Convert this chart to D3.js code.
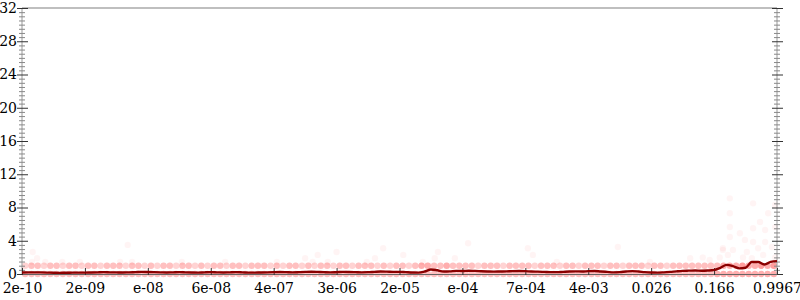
<!DOCTYPE html>
<html>
<head>
<meta charset="utf-8">
<script src="https://cdn.jsdelivr.net/npm/d3@7"></script>
<style>
	body { margin: 0; background: #fff; }
	.plot { width: 800px; height: 300px; }
</style>
</head>
<body>
<div class="plot" id="plot-1"></div>
<script>
//Data
//x is the rank position (0..12), tick labels give the value at each position
const xLabels = ['2e-10','2e-09','e-08','6e-08','4e-07','3e-06','2e-05','e-04','7e-04','4e-03','0.026','0.166','0.9967'];
const yTicks = [0,4,8,12,16,20,24,28,32];

//smoothed mean, one value every 0.1 of x
const meanLine = [
	0.18,0.2,0.2,0.19,0.17,0.15,0.14,0.15,0.16,0.17,0.17,
	0.18,0.2,0.22,0.2,0.19,0.18,0.2,0.22,0.25,0.24,
	0.22,0.2,0.18,0.2,0.22,0.2,0.18,0.17,0.2,0.22,
	0.2,0.18,0.2,0.22,0.2,0.17,0.16,0.18,0.2,0.22,
	0.24,0.22,0.2,0.22,0.25,0.27,0.25,0.22,0.2,0.22,
	0.25,0.24,0.22,0.2,0.22,0.26,0.3,0.28,0.25,0.26,
	0.22,0.18,0.17,0.3,0.55,0.45,0.3,0.32,0.38,0.36,
	0.4,0.37,0.33,0.3,0.28,0.3,0.32,0.35,0.36,0.34,
	0.3,0.28,0.25,0.22,0.22,0.26,0.3,0.32,0.3,0.34,
	0.36,0.3,0.25,0.2,0.22,0.3,0.35,0.3,0.22,0.18,
	0.17,0.2,0.25,0.32,0.38,0.4,0.42,0.4,0.42,0.48,
	0.75,1.1,0.95,0.68,0.75,1.45,1.45,1.15,1.45,1.55
];

//number of observations at value 1, per 0.1 bin of x
const countsAtOne = [
	2,3,3,2,3,3,2,3,3,2, 3,3,2,3,3,3,2,3,3,2,
	3,2,3,3,2,3,3,2,3,2, 3,3,2,3,3,2,3,3,3,2,
	3,2,3,3,2,3,2,3,3,2, 3,3,2,3,3,3,2,3,2,3,
	3,2,3,4,4,3,3,4,3,3, 3,3,2,3,3,3,2,3,3,3,
	3,2,3,3,3,2,3,3,2,3, 3,3,2,3,3,2,3,3,3,2,
	3,3,2,3,3,3,3,3,3,3, 3,4,4,4,5,4,4,5,4,5
];
//number of observations at value 0, per 0.1 bin of x
const countsAtZero = [
	3,3,3,3,3,3,3,3,3,3, 3,3,3,3,3,3,3,3,3,3,
	3,3,3,3,3,3,3,3,3,3, 3,3,3,3,3,3,3,3,3,3,
	3,3,3,3,3,3,3,3,3,3, 3,3,3,3,3,3,3,3,3,3,
	3,3,3,3,3,3,3,3,3,3, 3,3,3,3,3,3,3,3,3,3,
	3,3,3,3,3,3,3,3,3,3, 3,3,3,3,3,3,3,3,3,3,
	3,3,3,3,3,3,3,3,3,3, 4,4,4,4,4,4,4,4,4,4
];

//scattered observations above the bands
const pointX = [0.17,0.24,0.16,0.37,0.64,0.92,1.68,1.56,1.75,2.54,3.23,4.05,4.5,4.7,4.62,4.86,5.0,5.48,5.61,5.74,
	6.06,6.37,6.56,6.61,6.88,7.09,8.04,8.12,8.5,9.47,9.98,10.62,10.82,10.93,11.09,11.14,11.22,11.25,11.25,11.25,
	11.25,11.3,11.41,11.46,11.52,11.6,11.62,11.62,11.62,11.7,11.78,11.81,11.81,11.86,11.92,11.97,11.97,11.97,11.14,11.49,11.73];
const pointY = [2.65,1.9,1.45,1.45,1.45,1.45,3.5,1.45,1.45,1.45,1.45,1.45,1.9,2.3,1.45,1.45,2.65,1.45,1.9,3.1,
	2.3,1.45,1.9,2.65,1.9,3.7,3.1,2.3,1.45,3.25,1.45,1.9,2.0,1.7,2.0,3.1,2.3,9.1,7.3,5.65,
	4.45,2.9,4.9,2.0,2.65,1.9,8.5,5.5,3.85,3.1,2.3,5.3,3.85,7.3,3.25,8.3,5.65,2.0,2.9,4.1,6.25];

//Prepare DOM canvas
const w = 800;
const h = 300;
const m = {l: 22, r: 23, t: 8, b: 26};
const fontFamily = '"DejaVu Serif", "Liberation Serif", serif';
const svg = d3.select('#plot-1').append('svg').attr('width', w).attr('height', h);

const x = d3.scaleLinear().domain([0, xLabels.length - 1]).range([m.l, w - m.r]);
const y = d3.scaleLinear().domain([0, 32]).range([h - m.b, m.t]);

//top border
svg.append('line')
	.attr('x1', x(0)).attr('x2', x(12))
	.attr('y1', y(32)).attr('y2', y(32))
	.style('stroke', '#aaa')
	.style('stroke-width', 1.5);

//points, bands first
const bandData = [];
countsAtOne.forEach((c, i) => { for(let k = 0; k < c; k++) bandData.push({x: i/10 + 0.05, y: 1}); });
countsAtZero.forEach((c, i) => { for(let k = 0; k < c; k++) bandData.push({x: i/10 + 0.05, y: 0}); });
const scatterData = pointX.map((d, i) => ({x: d, y: pointY[i]}));

svg.append('g').selectAll('circle')
	.data(bandData)
	.enter()
	.append('circle')
	.attr('cx', d => x(d.x))
	.attr('cy', d => y(d.y))
	.attr('r', 3.2)
	.style('fill', '#ff0000')
	.style('fill-opacity', 0.09);

svg.append('g').selectAll('circle')
	.data(scatterData)
	.enter()
	.append('circle')
	.attr('cx', d => x(d.x))
	.attr('cy', d => y(d.y))
	.attr('r', 3.2)
	.style('fill', '#ff0000')
	.style('fill-opacity', 0.045);

//y axes with crossing ticks
const minorTicks = y.ticks(64);
[x(0), x(12)].forEach(px => {
	const g = svg.append('g');
	g.append('line')
		.attr('x1', px).attr('x2', px)
		.attr('y1', y(0)).attr('y2', y(32))
		.style('stroke', '#999');
	g.selectAll('.minor')
		.data(minorTicks.filter(d => d % 4 !== 0))
		.enter()
		.append('line')
		.attr('x1', px - 3).attr('x2', px + 3)
		.attr('y1', d => y(d) + 0.5).attr('y2', d => y(d) + 0.5)
		.style('stroke', '#888');
	g.selectAll('.major')
		.data(yTicks)
		.enter()
		.append('line')
		.attr('x1', px - 5).attr('x2', px + 6)
		.attr('y1', d => y(d) + 0.5).attr('y2', d => y(d) + 0.5)
		.style('stroke', '#333');
});

//y labels
svg.append('g')
	.attr('transform', `translate(${x(0)},0)`)
	.call(d3.axisLeft(y).tickValues(yTicks).tickSize(0).tickPadding(5).tickFormat(d3.format('d')))
	.call(g => g.select('.domain').remove())
	.selectAll('text')
	.style('font-family', fontFamily)
	.style('font-size', '14px')
	.style('fill', '#000');

//x axis, ticks pointing up
svg.append('g')
	.attr('transform', `translate(0,${y(0)})`)
	.call(d3.axisBottom(x).tickValues(d3.range(xLabels.length)).tickFormat(i => xLabels[i]).tickSizeInner(-6).tickSizeOuter(0).tickPadding(9))
	.call(g => g.select('.domain').style('stroke', '#666'))
	.call(g => g.selectAll('.tick line').style('stroke', '#333').attr('y2', -6).attr('y1', 1))
	.selectAll('text')
	.style('font-family', fontFamily)
	.style('font-size', '14px')
	.style('fill', '#000');

//mean line
const line = d3.line()
	.x((d, i) => x(i/10))
	.y(d => y(d))
	.curve(d3.curveMonotoneX);
svg.append('path')
	.datum(meanLine)
	.attr('d', line)
	.style('fill', 'none')
	.style('stroke', '#8b0000')
	.style('stroke-width', 2.4)
	.style('stroke-linejoin', 'round');
</script>
</body>
</html>
